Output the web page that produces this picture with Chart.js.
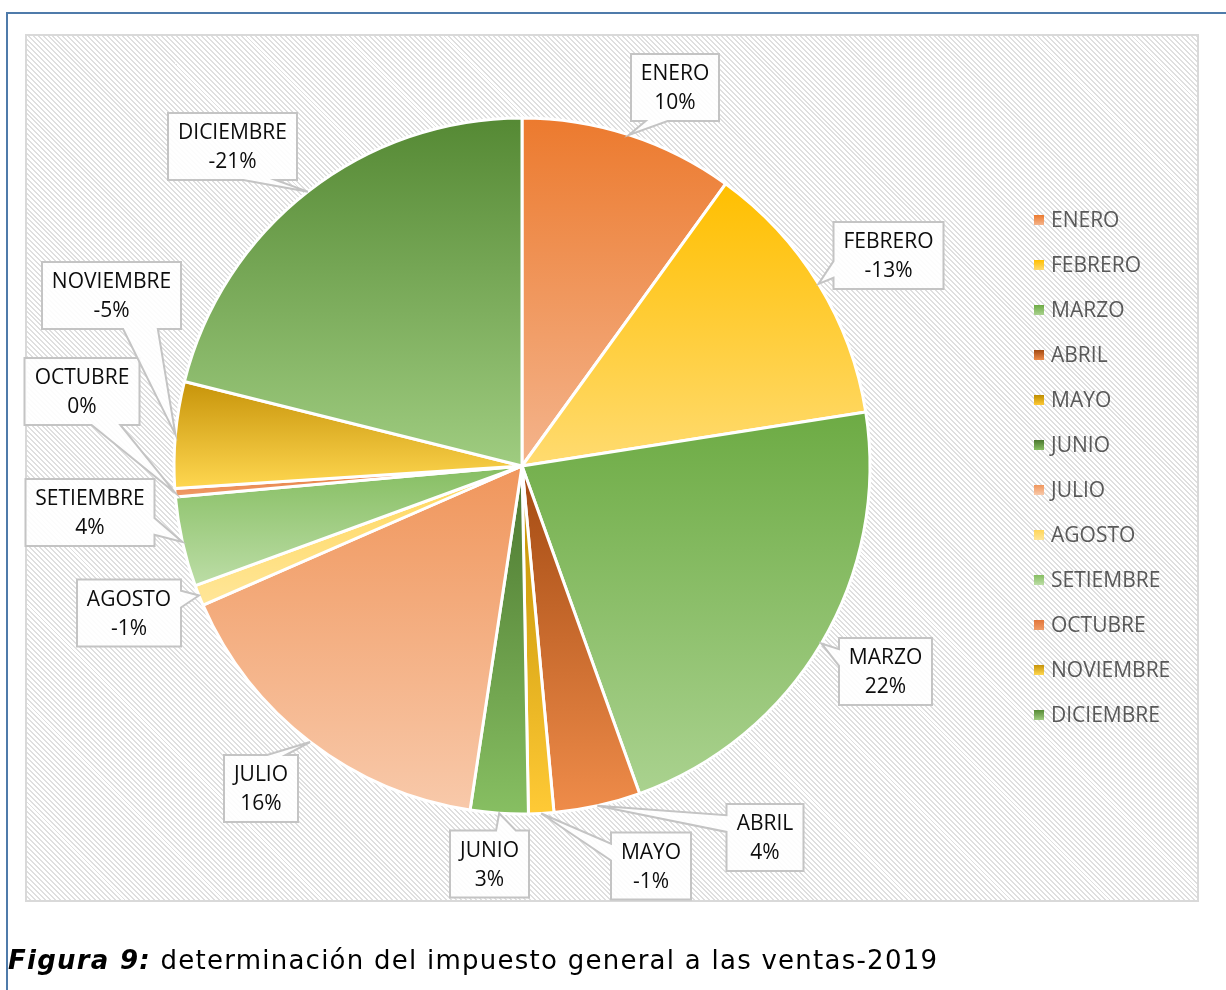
<!DOCTYPE html>
<html>
<head>
<meta charset="utf-8">
<script src="https://cdn.jsdelivr.net/npm/chart.js@4.4.0/dist/chart.umd.min.js"></script>
<style>
html,body{margin:0;padding:0;background:#fff;width:1226px;height:990px;overflow:hidden;}
#frame{position:absolute;left:6px;top:12px;width:1300px;height:1100px;border-left:2px solid #4F7BAA;border-top:2px solid #4F7BAA;}
#panel{position:absolute;left:25px;top:34px;width:1174px;height:868px;box-sizing:border-box;border:2px solid #D9D9D9;
  background:repeating-linear-gradient(45deg,#ffffff 0px,#ffffff 2.1px,#dfdfdf 2.1px,#dfdfdf 3.5px);}
#chart{position:absolute;left:0;top:0;}
#caption{position:absolute;left:8px;top:945px;font-family:"DejaVu Sans",Verdana,sans-serif;font-size:26px;letter-spacing:1.25px;color:#000;white-space:nowrap;}
</style>
</head>
<body>
<div id="frame"></div>
<div id="panel"></div>
<canvas id="chart" width="1226" height="990"></canvas>
<div id="caption"><b><i>Figura 9:</i></b> determinación del impuesto general a las ventas-2019</div>
<script>
// ---- data ----
const categories = ['ENERO','FEBRERO','MARZO','ABRIL','MAYO','JUNIO','JULIO','AGOSTO','SETIEMBRE','OCTUBRE','NOVIEMBRE','DICIEMBRE'];
const values = [9.95, -12.57, 22.0, 4.02, -1.17, 2.68, 16.07, -0.96, 4.17, 0.39, -4.93, -21.1];

// ---- styles ----
const darkColors  = ['#EC7A2E','#FFBF00','#6DAB44','#A34A12','#BE8D00','#4B772F','#F0965C','#FFD659','#86BE62','#E2763A','#C7940A','#558934'];
const lightColors = ['#F4B48C','#FFDB70','#AAD28F','#EF8C4A','#FFCA36','#87BF62','#F8C9AA','#FFE699','#BCDDA6','#F09C68','#FFD750','#9FCC80'];
// callout box centres, relative to the pie centre (px)
const labelOffsets = [[153,-378.5],[366.5,-210.5],[363.5,205.5],[243,371.5],[129,400],[-32.5,398],
  [-261,322.5],[-393,147],[-432,46.5],[-440,-74.5],[-410.5,-170.5],[-289.5,-319.5]];
const PIE_R = 348;
const labelFont = '21px "Open Sans", Lato, sans-serif';
const legendFont = '21px "Open Sans", Lato, sans-serif';

function sliceGradient(ctx) {
  const chart = ctx.chart, i = ctx.dataIndex;
  const area = chart.chartArea;
  if (!area) return darkColors[i];
  const cx = (area.left + area.right) / 2, cy = (area.top + area.bottom) / 2;
  const total = values.reduce((s, v) => s + Math.abs(v), 0);
  let acc = 0;
  for (let k = 0; k < i; k++) acc += Math.abs(values[k]);
  const a0 = -Math.PI / 2 + acc / total * 2 * Math.PI;
  const a1 = a0 + Math.abs(values[i]) / total * 2 * Math.PI;
  let ys = [cy, cy + PIE_R * Math.sin(a0), cy + PIE_R * Math.sin(a1)];
  for (const ext of [-Math.PI / 2, Math.PI / 2, 3 * Math.PI / 2]) {
    if (ext >= a0 && ext <= a1) ys.push(cy + PIE_R * Math.sin(ext));
  }
  const y0 = Math.min(...ys), y1 = Math.max(...ys);
  const g = chart.ctx.createLinearGradient(0, y0, 0, Math.max(y1, y0 + 1));
  g.addColorStop(0, darkColors[i]);
  g.addColorStop(1, lightColors[i]);
  return g;
}

function callout(c, bx, by, w, h, tx, ty) {
  const l = bx - w / 2, t = by - h / 2, r = bx + w / 2, b = by + h / 2;
  const dxn = (tx - bx) / w, dyn = (ty - by) / h;
  const inside = Math.abs(dxn) <= 0.5 && Math.abs(dyn) <= 0.5;
  const horiz = Math.abs(dxn) > Math.abs(dyn);
  const xa = l + w * (dxn > 0 ? 7 : 2) / 12, xb = l + w * (dxn > 0 ? 10 : 5) / 12;
  const ya = t + h * (dyn > 0 ? 7 : 2) / 12, yb = t + h * (dyn > 0 ? 10 : 5) / 12;
  c.beginPath();
  c.moveTo(l, t);
  if (!inside && !horiz && dyn < 0) { c.lineTo(xa, t); c.lineTo(tx, ty); c.lineTo(xb, t); }
  c.lineTo(r, t);
  if (!inside && horiz && dxn > 0) { c.lineTo(r, ya); c.lineTo(tx, ty); c.lineTo(r, yb); }
  c.lineTo(r, b);
  if (!inside && !horiz && dyn > 0) { c.lineTo(xb, b); c.lineTo(tx, ty); c.lineTo(xa, b); }
  c.lineTo(l, b);
  if (!inside && horiz && dxn < 0) { c.lineTo(l, yb); c.lineTo(tx, ty); c.lineTo(l, ya); }
  c.closePath();
}

const calloutPlugin = {
  id: 'callouts',
  afterDatasetsDraw(chart) {
    const c = chart.ctx;
    const meta = chart.getDatasetMeta(0);
    c.save();
    c.font = labelFont;
    meta.data.forEach((arc, i) => {
      const p = arc.getProps(['x', 'y', 'startAngle', 'endAngle', 'outerRadius'], true);
      const mid = (p.startAngle + p.endAngle) / 2;
      const tx = p.x + p.outerRadius * Math.cos(mid), ty = p.y + p.outerRadius * Math.sin(mid);
      const bx = p.x + labelOffsets[i][0], by = p.y + labelOffsets[i][1];
      const line1 = categories[i];
      const line2 = Math.round(values[i]) + '%';
      const tw = Math.max(c.measureText(line1).width, c.measureText(line2).width);
      const w = Math.round(tw + 20), h = 67;
      callout(c, bx, by, w, h, tx, ty);
      c.fillStyle = 'rgba(255,255,255,0.9)';
      c.fill();
      c.lineWidth = 2;
      c.strokeStyle = '#C4C4C4';
      c.lineJoin = 'miter';
      c.stroke();
      c.fillStyle = '#0D0D0D';
      c.textAlign = 'center';
      c.textBaseline = 'middle';
      c.fillText(line1, bx, by - 13);
      c.fillText(line2, bx, by + 16);
    });
    c.restore();
  }
};

const legendPlugin = {
  id: 'sideLegend',
  afterDraw(chart) {
    const c = chart.ctx;
    const x0 = 1034, y0 = 220, step = 45, box = 10;
    c.save();
    c.font = legendFont;
    c.textAlign = 'left';
    c.textBaseline = 'middle';
    categories.forEach((lab, i) => {
      const y = y0 + i * step;
      const g = c.createLinearGradient(0, y - box / 2, 0, y + box / 2);
      g.addColorStop(0, darkColors[i]);
      g.addColorStop(1, lightColors[i]);
      c.fillStyle = g;
      c.fillRect(x0, y - box / 2, box, box);
      c.fillStyle = '#595959';
      c.fillText(lab, x0 + 17, y + 1);
    });
    c.restore();
  }
};

const chart = new Chart(document.getElementById('chart'), {
  type: 'pie',
  data: {
    labels: categories,
    datasets: [{
      data: values,
      backgroundColor: sliceGradient,
      borderColor: '#FFFFFF',
      borderWidth: 3
    }]
  },
  options: {
    responsive: false,
    animation: false,
    devicePixelRatio: 1,
    events: [],
    radius: PIE_R,
    layout: { padding: { left: 170, right: 352, top: 100, bottom: 158 } },
    plugins: { legend: { display: false }, tooltip: { enabled: false } }
  },
  plugins: [calloutPlugin, legendPlugin]
});
</script>
</body>
</html>
